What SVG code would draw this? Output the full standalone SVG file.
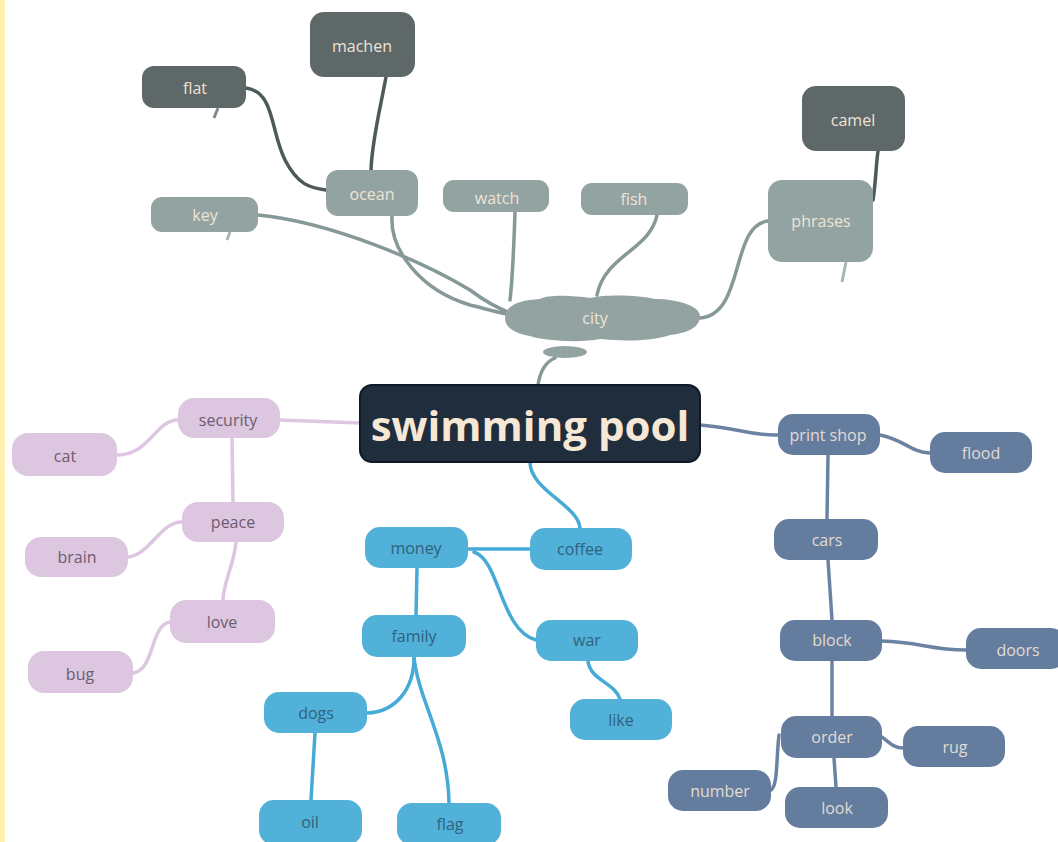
<svg xmlns="http://www.w3.org/2000/svg" width="1058" height="842" viewBox="0 0 1058 842">
<style>
text{font-family:"Open Sans","Liberation Sans",sans-serif;font-size:16px;text-anchor:middle;dominant-baseline:central}
.g rect,.g path.b{fill:#93a3a2}
.d rect{fill:#5f6868}
.g text,.d text{fill:#eee3d6}
.p rect{fill:#dcc6e0}
.p text{fill:#6e5c70}
.bl rect{fill:#52b1d9}
.bl text{fill:#2e627c}
.s rect{fill:#647d9e}
.s text{fill:#e2dbd3}
.c path{fill:none;stroke-width:3.5;stroke-linecap:round}
.cg{stroke:#869897}
.cd{stroke:#4e5959}
.cp{stroke:#dcc6e0}
.cb{stroke:#45aad6}
.cs{stroke:#6a83a3}
</style>
<rect x="0" y="0" width="1058" height="842" fill="#ffffff"/>
<rect x="0" y="0" width="5" height="842" fill="#fff0b0"/>
<g id="connectors" class="c">
<path class="cd" d="M246,88 C275,92 270,130 285,160 C298,185 310,188 326,190"/>
<path class="cd" d="M386,77 C380,110 372,140 371,170"/>
<path class="cd" d="M873,200 C876,180 876,165 878,151"/>
<path class="cg" d="M258,215 C330,222 420,260 470,290 C490,305 505,312 520,316"/>
<path class="cg" d="M392,216 C390,250 420,290 470,305 C490,310 500,313 512,315"/>
<path class="cg" d="M515,212 C514,240 513,275 510,300"/>
<path class="cg" d="M657,215 C650,250 605,255 597,295"/>
<path class="cg" d="M700,318 C745,315 730,225 768,221"/>
<path class="cg" d="M538,385 C540,372 545,362 555,358"/>
<path class="cp" d="M360,423 L280,420"/>
<path class="cp" d="M178,420 C155,420 150,455 117,455"/>
<path class="cp" d="M232,438 L233,502"/>
<path class="cp" d="M182,522 C160,522 150,555 128,557"/>
<path class="cp" d="M236,542 C234,565 224,580 223,600"/>
<path class="cp" d="M170,622 C150,625 155,670 133,673"/>
<path class="cb" d="M530,462 C530,490 578,505 580,528"/>
<path class="cb" d="M468,549 L530,549"/>
<path class="cb" d="M474,552 C500,560 500,630 536,640"/>
<path class="cb" d="M417,568 L416,615"/>
<path class="cb" d="M588,661 C590,680 615,683 620,699"/>
<path class="cb" d="M414,657 C414,690 395,712 367,713"/>
<path class="cb" d="M414,657 C418,700 448,740 449,803"/>
<path class="cb" d="M315,733 L311,800"/>
<path class="cs" d="M700,425 C740,428 750,436 778,435"/>
<path class="cs" d="M880,435 C905,440 910,452 930,453"/>
<path class="cs" d="M828,455 L827,519"/>
<path class="cs" d="M828,560 L832,620"/>
<path class="cs" d="M882,641 C920,642 930,650 966,650"/>
<path class="cs" d="M832,661 L832,716"/>
<path class="cs" d="M882,737 C892,745 895,748 903,748"/>
<path class="cs" d="M779,735 C776,760 778,785 771,790"/>
<path class="cs" d="M834,758 L836,787"/>
</g>
<g id="n-machen" class="d"><rect x="310" y="12" width="105" height="65" rx="14"/><text x="362" y="46">machen</text></g>
<g id="n-flat" class="d"><rect x="142" y="66" width="104" height="42" rx="12"/><path d="M218,108 L214,118" stroke="#7f8a8a" stroke-width="3"/><text x="195" y="88">flat</text></g>
<g id="n-ocean" class="g"><rect x="326" y="170" width="92" height="46" rx="12"/><text x="372" y="194">ocean</text></g>
<g id="n-watch" class="g"><rect x="443" y="180" width="106" height="32" rx="11"/><text x="497" y="198">watch</text></g>
<g id="n-fish" class="g"><rect x="581" y="183" width="107" height="32" rx="11"/><text x="634" y="199">fish</text></g>
<g id="n-camel" class="d"><rect x="802" y="86" width="103" height="65" rx="14"/><text x="853" y="120">camel</text></g>
<g id="n-key" class="g"><rect x="151" y="197" width="107" height="35" rx="11"/><path d="M230,232 L227,240" stroke="#a9b5b4" stroke-width="3"/><text x="205" y="215">key</text></g>
<g id="n-phrases" class="g"><rect x="768" y="180" width="105" height="82" rx="14"/><path d="M846,262 L842,282" stroke="#a9b5b4" stroke-width="3"/><text x="821" y="221">phrases</text></g>
<g id="n-city" class="g">
<path class="b" d="M505,318 C505,305 520,300 540,299 C550,294 575,296 590,298 C605,294 640,295 655,299 C680,299 700,307 700,316 C700,326 690,333 670,335 C650,342 620,341 600,339 C580,343 545,341 530,336 C512,333 505,326 505,318 Z"/>
<ellipse cx="565" cy="352" rx="22" ry="6" fill="#93a3a2"/>
<text x="595" y="318">city</text>
</g>
<g id="n-swimming-pool"><rect x="360" y="385" width="340" height="77" rx="12" fill="#1f2d3d" stroke="#0f1a26" stroke-width="2"/><text x="530" y="424" style="font-size:42px;font-weight:bold;fill:#f7e8d6">swimming pool</text></g>
<g id="n-security" class="p"><rect x="178" y="398" width="102" height="40" rx="16"/><text x="228" y="420">security</text></g>
<g id="n-cat" class="p"><rect x="12" y="433" width="105" height="43" rx="16"/><text x="65" y="456">cat</text></g>
<g id="n-peace" class="p"><rect x="182" y="502" width="102" height="40" rx="16"/><text x="233" y="522">peace</text></g>
<g id="n-brain" class="p"><rect x="25" y="537" width="103" height="40" rx="16"/><text x="77" y="557">brain</text></g>
<g id="n-love" class="p"><rect x="170" y="600" width="105" height="43" rx="16"/><text x="222" y="622">love</text></g>
<g id="n-bug" class="p"><rect x="28" y="651" width="105" height="42" rx="16"/><text x="80" y="674">bug</text></g>
<g id="n-money" class="bl"><rect x="365" y="527" width="103" height="41" rx="15"/><text x="416" y="548">money</text></g>
<g id="n-coffee" class="bl"><rect x="530" y="528" width="102" height="42" rx="15"/><text x="580" y="549">coffee</text></g>
<g id="n-family" class="bl"><rect x="362" y="615" width="104" height="42" rx="15"/><text x="414" y="636">family</text></g>
<g id="n-war" class="bl"><rect x="536" y="620" width="102" height="41" rx="15"/><text x="587" y="640">war</text></g>
<g id="n-dogs" class="bl"><rect x="264" y="692" width="103" height="41" rx="15"/><text x="316" y="713">dogs</text></g>
<g id="n-like" class="bl"><rect x="570" y="699" width="102" height="41" rx="15"/><text x="621" y="720">like</text></g>
<g id="n-oil" class="bl"><rect x="259" y="800" width="103" height="45" rx="15"/><text x="310" y="822">oil</text></g>
<g id="n-flag" class="bl"><rect x="397" y="803" width="104" height="42" rx="15"/><text x="450" y="824">flag</text></g>
<g id="n-print-shop" class="s"><rect x="778" y="414" width="102" height="41" rx="15"/><text x="828" y="435">print shop</text></g>
<g id="n-flood" class="s"><rect x="930" y="432" width="102" height="41" rx="15"/><text x="981" y="453">flood</text></g>
<g id="n-cars" class="s"><rect x="774" y="519" width="104" height="41" rx="15"/><text x="827" y="540">cars</text></g>
<g id="n-block" class="s"><rect x="780" y="620" width="102" height="41" rx="15"/><text x="832" y="640">block</text></g>
<g id="n-doors" class="s"><rect x="966" y="628" width="100" height="41" rx="15"/><text x="1018" y="650">doors</text></g>
<g id="n-order" class="s"><rect x="781" y="716" width="101" height="42" rx="15"/><text x="832" y="737">order</text></g>
<g id="n-rug" class="s"><rect x="903" y="726" width="102" height="41" rx="15"/><text x="955" y="747">rug</text></g>
<g id="n-number" class="s"><rect x="668" y="770" width="103" height="41" rx="15"/><text x="720" y="791">number</text></g>
<g id="n-look" class="s"><rect x="785" y="787" width="103" height="41" rx="15"/><text x="837" y="808">look</text></g>
</svg>
